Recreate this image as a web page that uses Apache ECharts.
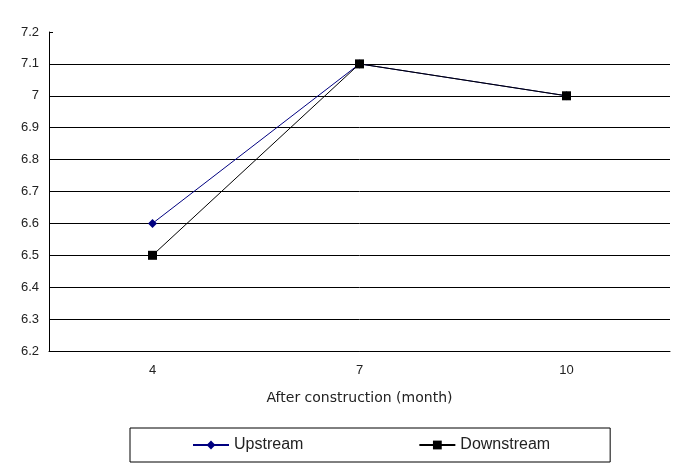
<!DOCTYPE html>
<html>
<head>
<meta charset="utf-8">
<script src="https://cdn.jsdelivr.net/npm/echarts@6/dist/echarts.min.js"></script>
<style>
  html, body { margin: 0; padding: 0; background: #fff; }
  #main { width: 688px; height: 474px; }
</style>
</head>
<body>
<div id="main"></div>
<script>
const months = ['4', '7', '10']
const upstream = [6.6, 7.1, 7.0]
const downstream = [6.5, 7.1, 7.0]
const yMin = 6.2
const yMax = 7.2
const yStep = 0.1

const chart = echarts.init(document.getElementById('main'), null, { renderer: 'canvas' })

// grid lines for every tick except the top one
const gridColors = []
for (let i = 0; i < 10; i++) gridColors.push('#000')
gridColors.push('rgba(0,0,0,0)')

const font = 'Liberation Sans, Arial, sans-serif'

chart.setOption({
  animation: false,
  textStyle: { fontFamily: font },
  grid: { left: 49, right: 18, top: 32, bottom: 123 },
  legend: {
    left: 130,
    top: 428,
    padding: [9, 60, 9, 62],
    borderColor: '#000',
    borderWidth: 1,
    itemWidth: 36,
    itemHeight: 11,
    itemGap: 115,
    textStyle: { fontSize: 16, color: '#222', fontFamily: font },
    data: ['Upstream', 'Downstream']
  },
  xAxis: {
    type: 'category',
    data: months,
    boundaryGap: true,
    name: 'After construction (month)',
    nameLocation: 'middle',
    nameGap: 40,
    nameTextStyle: { fontSize: 14, color: '#222', fontFamily: 'DejaVu Sans, sans-serif' },
    axisLine: { lineStyle: { color: '#000', width: 1 } },
    axisTick: { inside: true, length: 5, lineStyle: { color: '#000' } },
    axisLabel: { fontSize: 13, color: '#222', margin: 13 },
    splitLine: { show: false }
  },
  yAxis: {
    type: 'value',
    min: yMin,
    max: yMax,
    interval: yStep,
    axisLine: { show: true, lineStyle: { color: '#000', width: 1 } },
    axisTick: { show: true, inside: true, length: 4, lineStyle: { color: '#000' } },
    axisLabel: { fontSize: 13, color: '#222', margin: 10 },
    splitLine: { show: true, lineStyle: { color: gridColors, width: 1 } }
  },
  series: [
    {
      name: 'Upstream',
      type: 'line',
      data: upstream,
      symbol: 'diamond',
      symbolSize: 9,
      itemStyle: { color: '#000080' },
      lineStyle: { color: '#000080', width: 1 }
    },
    {
      name: 'Downstream',
      type: 'line',
      data: downstream,
      symbol: 'rect',
      symbolSize: 9,
      itemStyle: { color: '#000' },
      lineStyle: { color: '#000', width: 1 }
    }
  ]
})
</script>
</body>
</html>
